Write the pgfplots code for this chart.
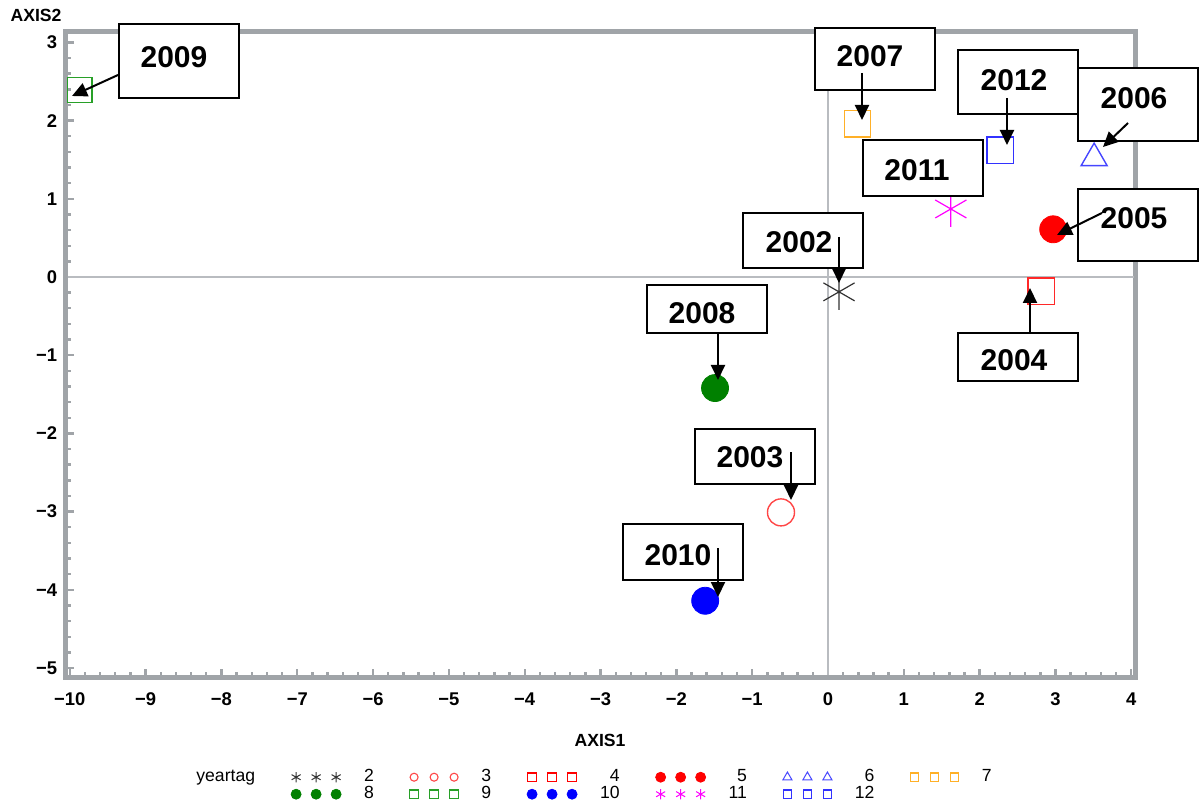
\documentclass[border=0pt]{standalone}
\usepackage{pgfplots}
\pgfplotsset{compat=1.18}
\usepackage{fontspec}
\setmainfont{Liberation Sans}
\usetikzlibrary{arrows.meta}
\definecolor{framegray}{RGB}{160,164,168}
\definecolor{refgray}{RGB}{185,188,192}
\definecolor{c2002}{RGB}{50,50,50}
\definecolor{c2003}{RGB}{255,70,70}
\definecolor{c2004}{RGB}{255,40,40}
\definecolor{c2005}{RGB}{255,0,0}
\definecolor{c2006}{RGB}{70,70,255}
\definecolor{c2007}{RGB}{255,176,40}
\definecolor{c2008}{RGB}{0,128,0}
\definecolor{c2009}{RGB}{40,160,40}
\definecolor{c2010}{RGB}{0,0,255}
\definecolor{c2011}{RGB}{255,0,255}
\definecolor{c2012}{RGB}{50,50,255}
\begin{document}
\begin{tikzpicture}
\begin{axis}[
  at={(0,0)}, anchor=south west,
  scale only axis, width=534.5pt, height=322.5pt,
  xmin=-10.05, xmax=4.049, ymin=-5.115, ymax=3.133,
  axis line style={line width=2.5pt, framegray},
  xtick={-10,...,4}, ytick={-5,...,3},
  xticklabels={−10,−9,−8,−7,−6,−5,−4,−3,−2,−1,0,1,2,3,4},
  yticklabels={−5,−4,−3,−2,−1,0,1,2,3},
  minor tick num=4,
  tick align=inside, tick pos=left,
  tick style={framegray, line width=1.2pt},
  major tick length=4.25pt, minor tick length=2.75pt,
  ticklabel style={font=\bfseries\fontsize{9.2}{10}\selectfont, inner sep=0pt},
  xticklabel style={anchor=base, yshift=-14pt},
  yticklabel style={anchor=east, xshift=-4.25pt},
  xlabel={AXIS1}, ylabel={AXIS2},
  every axis x label/.style={at={(rel axis cs:0.49953,-0.09767)}, anchor=center, font=\bfseries\fontsize{8.8}{10}\selectfont},
  every axis y label/.style={at={(rel axis cs:-0.02806,1.02636)}, anchor=center, font=\bfseries\fontsize{8.8}{10}\selectfont},
  clip=false,
  legend columns=7,
  legend cell align=right,
  legend style={draw=none, fill=none, at={(rel axis cs:0.10010,-0.14186)}, anchor=north west,
    inner sep=0pt, font=\fontsize{8.8}{10}\selectfont,
    nodes={inner sep=0pt, text height=6.4pt, text depth=1.9pt}, row sep=0.2pt,
    /tikz/every odd column/.style={column sep=11.5pt},
    /tikz/every even column/.style={column sep=18pt}},
  legend image code/.code={\draw[#1,/tikz/only marks] plot coordinates {(0pt,0pt)(10pt,0pt)(20pt,0pt)};},
]
% reference lines
\addplot[refgray, line width=0.75pt, forget plot] coordinates {(0,-5.09) (0,3.11)};
\addplot[refgray, line width=0.75pt, forget plot] coordinates {(-10.03,0) (4.03,0)};
% data points (one per year)
\addplot[only marks, forget plot, mark=asterisk, mark size=9pt, c2002, line width=0.6pt] coordinates {(0.145,-0.19)};
\addplot[only marks, forget plot, mark=o, mark size=6.75pt, c2003, line width=0.7pt] coordinates {(-0.62,-3.01)};
\addplot[only marks, forget plot, mark=square, mark size=6.6pt, c2004, line width=0.7pt] coordinates {(2.81,-0.18)};
\addplot[only marks, forget plot, mark=*, mark size=6.75pt, c2005] coordinates {(2.97,0.61)};
\addplot[only marks, forget plot, mark=triangle, mark size=7.5pt, c2006, line width=0.7pt] coordinates {(3.51,1.52)};
\addplot[only marks, forget plot, mark=square, mark size=6.6pt, c2007, line width=0.7pt] coordinates {(0.39,1.96)};
\addplot[only marks, forget plot, mark=*, mark size=6.75pt, c2008] coordinates {(-1.49,-1.42)};
\addplot[only marks, forget plot, mark=square, mark size=6.2pt, c2009, line width=0.7pt] coordinates {(-9.87,2.39)};
\addplot[only marks, forget plot, mark=*, mark size=6.75pt, c2010] coordinates {(-1.62,-4.14)};
\addplot[only marks, forget plot, mark=asterisk, mark size=9pt, c2011, line width=0.6pt] coordinates {(1.62,0.87)};
\addplot[only marks, forget plot, mark=square, mark size=6.6pt, c2012, line width=0.7pt] coordinates {(2.27,1.62)};
% legend
\addlegendimage{empty legend}\addlegendentry{yeartag}
\addlegendimage{only marks, mark=asterisk, mark size=2.6pt, color=c2002, mark options={draw=c2002}, line width=0.5pt}\addlegendentry{2}
\addlegendimage{only marks, mark=o, mark size=2pt, color=c2003, mark options={draw=c2003}, line width=0.55pt}\addlegendentry{3}
\addlegendimage{only marks, mark=square, mark size=2.1pt, color=red, mark options={draw=red}, line width=0.6pt}\addlegendentry{4}
\addlegendimage{only marks, mark=*, mark size=2.5pt, color=c2005, mark options={draw=c2005, fill=c2005}}\addlegendentry{5}
\addlegendimage{only marks, mark=triangle, mark size=2.6pt, color=c2006, mark options={draw=c2006}, line width=0.5pt}\addlegendentry{6}
\addlegendimage{only marks, mark=square, mark size=2.1pt, color=c2007, mark options={draw=c2007}, line width=0.55pt}\addlegendentry{7}
\addlegendimage{empty legend}\addlegendentry{}
\addlegendimage{only marks, mark=*, mark size=2.5pt, color=c2008, mark options={draw=c2008, fill=c2008}}\addlegendentry{8}
\addlegendimage{only marks, mark=square, mark size=2.1pt, color=c2009, mark options={draw=c2009}, line width=0.55pt}\addlegendentry{9}
\addlegendimage{only marks, mark=*, mark size=2.5pt, color=c2010, mark options={draw=c2010, fill=c2010}}\addlegendentry{10}
\addlegendimage{only marks, mark=asterisk, mark size=2.6pt, color=c2011, mark options={draw=c2011}, line width=0.5pt}\addlegendentry{11}
\addlegendimage{only marks, mark=square, mark size=2.1pt, color=c2012, mark options={draw=c2012}, line width=0.55pt}\addlegendentry{12}
\end{axis}
% callouts, in pixel units of the reference
\begin{scope}[shift={(-33pt,338.5pt)}, x=0.5pt, y=-0.5pt,
  cbox/.style={draw=black, fill=white, line width=1pt},
  ctext/.style={font=\bfseries\fontsize{15}{16}\selectfont, inner sep=0pt},
  carr/.style={line width=1pt, -{Triangle[length=7.5pt,width=7pt]}}]
  % 2009
  \draw[cbox] (119,24) rectangle (239,98);  \node[ctext] at (174,57) {2009};  \draw[carr] (118,75) -- (72,96);
  % 2007
  \draw[cbox] (815,28) rectangle (935,90);  \node[ctext] at (870,56) {2007};  \draw[carr] (862,73) -- (862,120);
  % 2012
  \draw[cbox] (958,50) rectangle (1078,114); \node[ctext] at (1014,80) {2012}; \draw[carr] (1007,98) -- (1007,145);
  % 2006
  \draw[cbox] (1078,68) rectangle (1198,141); \node[ctext] at (1134,98) {2006}; \draw[carr] (1128,123) -- (1103,147);
  % 2011
  \draw[cbox] (863,140) rectangle (983,196); \node[ctext] at (917,170) {2011};
  % 2005
  \draw[cbox] (1078,189) rectangle (1198,261); \node[ctext] at (1134,218) {2005}; \draw[carr] (1102,213) -- (1057,235);
  % 2002
  \draw[cbox] (743,213) rectangle (863,268); \node[ctext] at (799,242) {2002}; \draw[carr] (839,237) -- (839,283);
  % 2004
  \draw[cbox] (958,333) rectangle (1078,381); \node[ctext] at (1014,360) {2004}; \draw[carr] (1030,333) -- (1030,288);
  % 2008
  \draw[cbox] (647,285) rectangle (767,333); \node[ctext] at (702,313) {2008}; \draw[carr] (718,333) -- (718,380);
  % 2003
  \draw[cbox] (695,429) rectangle (815,484); \node[ctext] at (750,457) {2003}; \draw[carr] (791,452) -- (791,500);
  % 2010
  \draw[cbox] (623,524) rectangle (743,580); \node[ctext] at (678,555) {2010}; \draw[carr] (718,548) -- (718,597);
  \pgfresetboundingbox
  \path[use as bounding box] (0,0) rectangle (1199,804);
\end{scope}
\end{tikzpicture}
\end{document}
